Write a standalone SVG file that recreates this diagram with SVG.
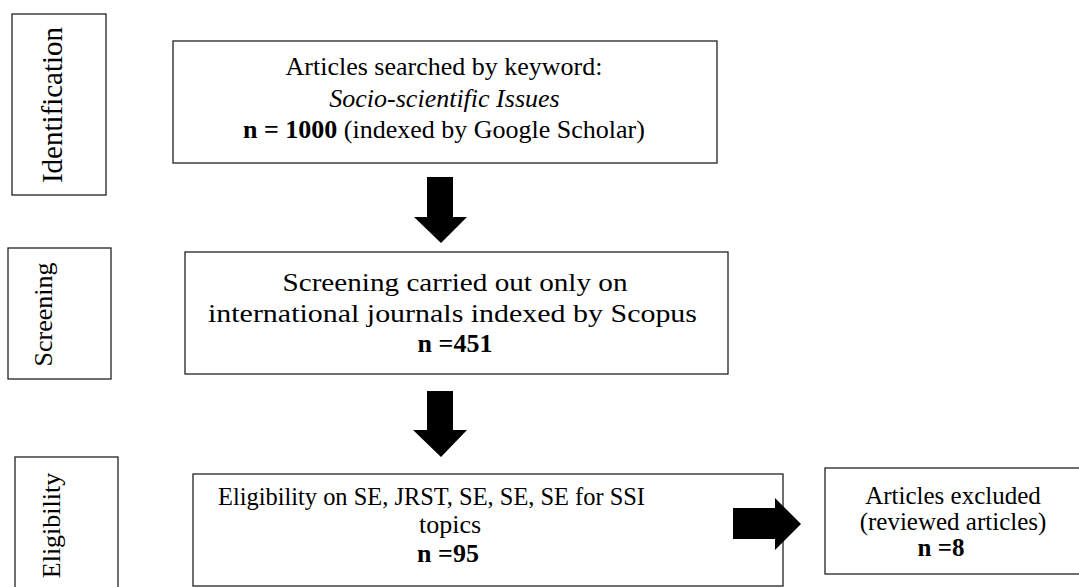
<svg xmlns="http://www.w3.org/2000/svg" width="1079" height="587" viewBox="0 0 1079 587">
<style>
.box{fill:#fff;stroke:#222;stroke-width:1.3}
.t{font-family:"Liberation Serif","Times New Roman",serif;fill:#000;text-anchor:middle}
.c{font-family:"Liberation Serif","Times New Roman",serif;fill:#000;text-anchor:middle}
.b{font-weight:bold}
.arrow{fill:#000}
</style>
<rect width="1079" height="587" fill="#fff"/>
<g id="label-identification">
<rect class="box" x="12" y="14" width="94" height="181"/>
<text class="t" font-size="29" transform="translate(61.5,105) rotate(-90)">Identification</text>
</g>
<g id="label-screening">
<rect class="box" x="8" y="248" width="103" height="131"/>
<text class="t" font-size="26" transform="translate(52,314.5) rotate(-90)">Screening</text>
</g>
<g id="label-eligibility">
<rect class="box" x="15" y="457" width="103" height="140"/>
<text class="t" font-size="26" transform="translate(60,525.5) rotate(-90)">Eligibility</text>
</g>
<g id="node-identification">
<rect class="box" x="173" y="41" width="544" height="122"/>
<text class="t" font-size="26" x="444" y="75">Articles searched by keyword:</text>
<text class="t" font-size="26" x="444.5" y="107" font-style="italic">Socio-scientific Issues</text>
<text class="t" font-size="26" x="444" y="138"><tspan class="b">n = 1000</tspan> (indexed by Google Scholar)</text>
</g>
<g id="node-screening">
<rect class="box" x="185" y="252" width="543" height="122"/>
<text class="c" font-size="26" x="455" y="291" textLength="345" lengthAdjust="spacingAndGlyphs">Screening carried out only on</text>
<text class="c" font-size="26" x="452.5" y="322" textLength="489" lengthAdjust="spacingAndGlyphs">international journals indexed by Scopus</text>
<text class="c b" font-size="26" x="455" y="352">n =451</text>
</g>
<g id="node-eligibility">
<rect class="box" x="193" y="474" width="590" height="112"/>
<text class="c" font-size="26" x="431.5" y="505" textLength="427" lengthAdjust="spacingAndGlyphs">Eligibility on SE, JRST, SE, SE, SE for SSI</text>
<text class="c" font-size="26" x="450" y="533">topics</text>
<text class="c b" font-size="26" x="448" y="562">n =95</text>
</g>
<g id="node-excluded">
<rect class="box" x="825" y="468" width="260" height="106"/>
<text class="t" font-size="25" x="953" y="504">Articles excluded</text>
<text class="t" font-size="25" x="953" y="530">(reviewed articles)</text>
<text class="t b" font-size="25" x="941" y="556">n =8</text>
</g>
<g id="connectors">
<polygon class="arrow" points="427,177 453,177 453,217 467,217 441,243 414,217 427,217"/>
<polygon class="arrow" points="427,391 453,391 453,430 467,430 441,457 413,430 427,430"/>
<polygon class="arrow" points="733,508 775,508 775,498 801,524 775,550 775,539 733,539"/>
</g>
</svg>
